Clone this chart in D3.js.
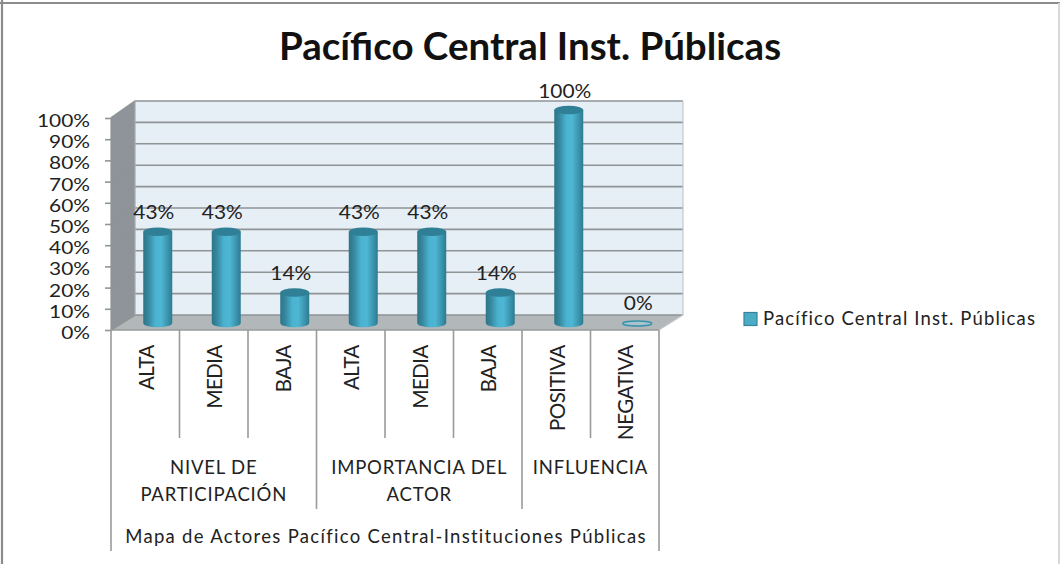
<!DOCTYPE html>
<html><head><meta charset="utf-8">
<script src="https://cdn.jsdelivr.net/npm/d3@7"></script>
<style>html,body{margin:0;padding:0;background:#fff}svg{display:block}text{font-family:Lato,"Open Sans",sans-serif;fill:#222}</style>
</head><body><div id="c"></div>
<script>
const chartTitle = "Pacífico Central Inst. Públicas";
const categories = ["ALTA","MEDIA","BAJA","ALTA","MEDIA","BAJA","POSITIVA","NEGATIVA"];
const values = [0.4286,0.4286,0.1429,0.4286,0.4286,0.1429,1,0];
const dataLabels = ["43%","43%","14%","43%","43%","14%","100%","0%"];
const yTicks = [0,0.1,0.2,0.3,0.4,0.5,0.6,0.7,0.8,0.9,1];
const groups = [
  {lines:["NIVEL DE","PARTICIPACIÓN"],from:0,to:3},
  {lines:["IMPORTANCIA DEL","ACTOR"],from:3,to:6},
  {lines:["INFLUENCIA"],from:6,to:8}
];
const outerLabel = "Mapa de Actores Pacífico Central-Instituciones Públicas";

const W=1060,H=564;
const svg=d3.select("#c").append("svg").attr("width",W).attr("height",H);
const defs=svg.append("defs");
const grad=defs.append("linearGradient").attr("id","cyl");
[[0,"#2b7488"],[0.18,"#37889f"],[0.42,"#4ab3d1"],[0.62,"#4fb6d3"],[0.85,"#3a93ac"],[1,"#2d7a90"]].forEach(s=>grad.append("stop").attr("offset",s[0]).attr("stop-color",s[1]));

// frame
const frame=(x1,y1,x2,y2,c,w)=>svg.append("line").attr("x1",x1).attr("y1",y1).attr("x2",x2).attr("y2",y2).attr("stroke",c).attr("stroke-width",w);
frame(0,3,1060,3,"#8c8c8c",2);
frame(2,0,2,564,"#8c8c8c",2.2);
frame(1059,3,1059,564,"#d9d9d9",2);

const x=d3.scaleBand().domain(d3.range(categories.length)).range([111,659]);
const y=d3.scaleLinear().domain([0,1]).range([330,118]);     // front edge
const yBack=d3.scaleLinear().domain([0,1]).range([315,101]); // back wall
const yMid=d3.scaleLinear().domain([0,1]).range([323,110]);  // bar axis plane
const dx=24;
const gridCol="#8f9496";

// walls
const g=svg.append("g");
const L=x.range()[0],R=x.range()[1];
const poly=(pts,fill)=>g.append("polygon").attr("points",pts.map(p=>p.join(",")).join(" ")).attr("fill",fill);
poly([[L+dx,yBack(1)],[R+dx,yBack(1)],[R+dx,yBack(0)],[L+dx,yBack(0)]],"#e7eff6");
poly([[L,y(1)],[L+dx,yBack(1)],[L+dx,yBack(0)],[L,y(0)]],"#8e9499");
poly([[L,y(0)],[L+dx,yBack(0)],[R+dx,yBack(0)],[R,y(0)]],"#b2b7ba");

// gridlines
yTicks.forEach(t=>{
  g.append("path").attr("d",d3.line()([[L,y(t)],[L+dx,yBack(t)],[R+dx,yBack(t)]])).attr("fill","none").attr("stroke",gridCol).attr("stroke-width",1.6);
});
g.append("path").attr("d",d3.line()([[L+dx,yBack(1)],[L+dx,yBack(0)]])).attr("stroke","#a5aaad").attr("stroke-width",1.2);
g.append("path").attr("d",d3.line()([[R+dx,yBack(1)],[R+dx,yBack(0)],[R,y(0)]])).attr("fill","none").attr("stroke","#c4c9cc").attr("stroke-width",1.2);
g.append("path").attr("d",d3.line()([[L,y(1)],[L,y(0)]])).attr("stroke",gridCol).attr("stroke-width",1.2);

// y axis ticks and labels
const yAxis=d3.axisLeft(y).tickValues(yTicks).tickFormat(d3.format(".0%")).tickSize(6);
const ya=svg.append("g").attr("transform",`translate(${L},0)`).call(yAxis);
ya.select(".domain").remove();
ya.selectAll("line").attr("stroke",gridCol).attr("stroke-width",1.6);
ya.selectAll("text").attr("x",0).attr("dy",null).attr("font-size",17.4).attr("text-anchor","end")
  .attr("transform","translate(-21,8.5) scale(1.2,1)");

// cylinders
const bw=29,ry=4.3;
const cx=i=>x(i)+x.bandwidth()/2+dx/2+0.5;
const bars=svg.append("g");
values.forEach((v,i)=>{
  const c=cx(i),t=yMid(v),b=yMid(0),hw=bw/2;
  if(v>0){
    bars.append("path").attr("d",`M${c-hw},${t}L${c-hw},${b}A${hw},${ry} 0 0 0 ${c+hw},${b}L${c+hw},${t}Z`).attr("fill","url(#cyl)");
    bars.append("ellipse").attr("cx",c).attr("cy",t).attr("rx",hw).attr("ry",ry).attr("fill","#2f7f96");
  } else {
    bars.append("ellipse").attr("cx",c).attr("cy",b+0.5).attr("rx",hw).attr("ry",2.5).attr("fill","#a9c4cc").attr("stroke","#3a93ac").attr("stroke-width",1.5);
  }
  const lx=c-(v===0?-1:4), ly=v===0?310:v===1?98:(t-13);
  svg.append("text").attr("transform",`translate(${lx},${ly}) scale(1.1,1)`).attr("text-anchor","middle").attr("font-size",19).text(dataLabels[i]);
});

// multi-level category axis
const ax=svg.append("g");
const axisCol="#9a9a9a";
const vline=(xx,y1,y2)=>ax.append("line").attr("x1",xx).attr("x2",xx).attr("y1",y1).attr("y2",y2).attr("stroke",axisCol).attr("stroke-width",1.6);
const catBottom=438,grpBottom=509,outerBottom=551;
d3.range(1,categories.length).forEach(i=>{ if(!groups.some(g=>g.from===i)) vline(x(i),y(0),catBottom); });
groups.forEach(gr=>{ if(gr.from>0) vline(x(gr.from),y(0),grpBottom); });
vline(L,y(0),outerBottom);
vline(R,y(0),outerBottom);
ax.append("line").attr("x1",L).attr("x2",R).attr("y1",y(0)).attr("y2",y(0)).attr("stroke",axisCol).attr("stroke-width",1.6);

categories.forEach((c,i)=>{
  const px=x(i)+x.bandwidth()/2+8.5;
  svg.append("text").attr("transform",`translate(${px},345) rotate(-90)`).attr("text-anchor","end").attr("font-size",20.5).style("letter-spacing","-0.5px").text(c);
});
groups.forEach(gr=>{
  const px=(x(gr.from)+x(gr.to-1)+x.bandwidth())/2;
  gr.lines.forEach((l,k)=>svg.append("text").attr("x",px).attr("y",474+k*27).attr("text-anchor","middle").attr("font-size",18.5).style("letter-spacing","0.8px").text(l));
});
svg.append("text").attr("x",(L+R)/2+1).attr("y",543).attr("text-anchor","middle").attr("font-size",18.5).style("letter-spacing","1.3px").text(outerLabel);

// title
svg.append("text").attr("x",530).attr("y",60).attr("text-anchor","middle").attr("font-size",38.5).attr("font-weight",700).style("fill","#111").text(chartTitle);

// legend
svg.append("rect").attr("x",744).attr("y",312.5).attr("width",13).attr("height",13).attr("fill","#4bacc6").attr("stroke","#3a8298").attr("stroke-width",1.2);
svg.append("text").attr("x",763).attr("y",325).attr("font-size",18.5).style("letter-spacing","1.15px").text(chartTitle);
</script></body></html>
